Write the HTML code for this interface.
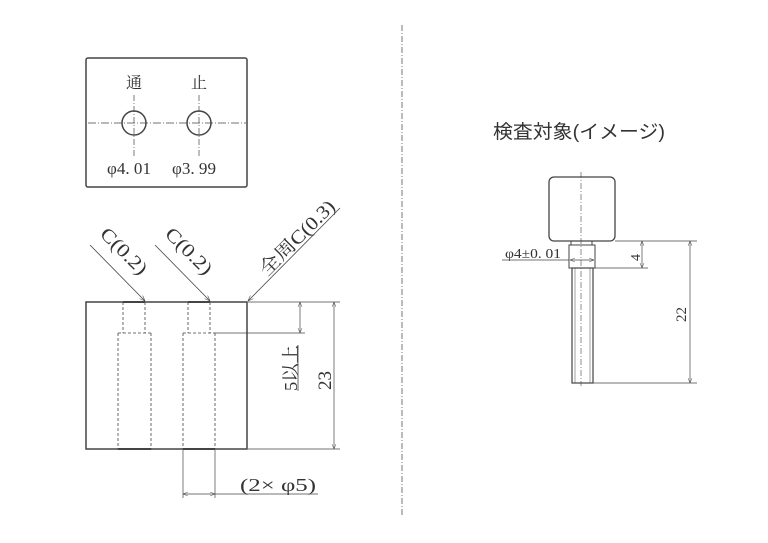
<!DOCTYPE html>
<html><head><meta charset="utf-8"><style>
html,body{margin:0;padding:0;background:#fff;width:768px;height:543px;overflow:hidden}
svg{display:block}
text{font-family:"Liberation Serif","Noto Serif CJK SC",serif;fill:#333}
</style></head><body>
<svg width="768" height="543" viewBox="0 0 768 543" xmlns="http://www.w3.org/2000/svg">
<defs>
<marker id="a" viewBox="0 0 10 10" refX="10" refY="5" markerWidth="7" markerHeight="7" orient="auto-start-reverse"><path d="M0,1 L10,5 L0,9" fill="none" stroke="#444" stroke-width="1"/></marker>
</defs>
<g stroke="#444" fill="none" stroke-width="1">
<line x1="402" y1="25" x2="402" y2="515" stroke-dasharray="6,2,1,2" stroke="#777"/>
<rect x="86" y="58" width="161" height="129" rx="2" stroke-width="1.5"/>
<line x1="88" y1="123" x2="246" y2="123" stroke-dasharray="8,2,1,2" stroke-width="0.7"/>
<line x1="134" y1="95" x2="134" y2="158" stroke-dasharray="6,2,1,2" stroke-width="0.7"/>
<line x1="199" y1="95" x2="199" y2="158" stroke-dasharray="6,2,1,2" stroke-width="0.7"/>
<circle cx="134" cy="123" r="12" stroke-width="1.5"/>
<circle cx="199" cy="123" r="12" stroke-width="1.5"/>
<rect x="86" y="302" width="161" height="147" stroke-width="1.5"/>
<g stroke-dasharray="3,2" stroke-width="0.8">
<path d="M123,302 V333 M145,302 V333 M118,333 H151 M118,333 V449 M151,333 V449"/>
<path d="M188,302 V333 M210,302 V333 M183,333 H215 M183,333 V449 M215,333 V449"/>
</g>
<path d="M123,302 H145 M188,302 H210 M118,449 H151 M183,449 H215" stroke-width="2"/>
<line x1="90" y1="245" x2="145" y2="301" marker-end="url(#a)" stroke-width="0.8"/>
<line x1="155" y1="245" x2="210" y2="301" marker-end="url(#a)" stroke-width="0.8"/>
<line x1="340" y1="208" x2="248" y2="301" marker-end="url(#a)" stroke-width="0.8"/>
<g stroke-width="0.7">
<line x1="248" y1="302" x2="340" y2="302"/>
<line x1="215" y1="333" x2="305" y2="333"/>
<line x1="248" y1="449" x2="340" y2="449"/>
<line x1="300" y1="302" x2="300" y2="333" marker-start="url(#a)" marker-end="url(#a)"/>
<line x1="334" y1="302" x2="334" y2="449" marker-start="url(#a)" marker-end="url(#a)"/>
<line x1="183" y1="450" x2="183" y2="498"/>
<line x1="215" y1="450" x2="215" y2="498"/>
<line x1="183" y1="494" x2="215" y2="494" marker-start="url(#a)" marker-end="url(#a)"/>
<line x1="215" y1="494" x2="318" y2="494"/>
</g>
<rect x="549" y="177" width="66" height="64" rx="5" stroke-width="1.3"/>
<rect x="571" y="241" width="21" height="4"/>
<rect x="569" y="245" width="26" height="23"/>
<rect x="572" y="268" width="21" height="115" stroke-width="1.2"/>
<line x1="575" y1="268" x2="575" y2="383" stroke-width="0.5"/>
<line x1="590" y1="268" x2="590" y2="383" stroke-width="0.5"/>
<line x1="581" y1="172" x2="581" y2="386" stroke-dasharray="6,2,1,2" stroke-width="0.6"/>
<g stroke-width="0.7">
<line x1="615" y1="241" x2="697" y2="241"/>
<line x1="595" y1="268" x2="648" y2="268"/>
<line x1="593" y1="383" x2="697" y2="383"/>
<line x1="642" y1="241" x2="642" y2="268" marker-start="url(#a)" marker-end="url(#a)"/>
<line x1="690" y1="241" x2="690" y2="383" marker-start="url(#a)" marker-end="url(#a)"/>
<line x1="502" y1="260" x2="569" y2="260"/>
<line x1="570" y1="260" x2="594" y2="260" marker-start="url(#a)" marker-end="url(#a)"/>
</g>
</g>
<text x="134" y="88" font-size="16" text-anchor="middle">通</text>
<text x="199" y="88" font-size="16" text-anchor="middle">止</text>
<text x="107" y="174" font-size="17" textLength="44" lengthAdjust="spacingAndGlyphs">φ4. 01</text>
<text x="172" y="174" font-size="17" textLength="44" lengthAdjust="spacingAndGlyphs">φ3. 99</text>
<text transform="translate(99,235) rotate(45)" font-size="19" textLength="58" lengthAdjust="spacingAndGlyphs">C(0.2)</text>
<text transform="translate(164,235) rotate(45)" font-size="19" textLength="58" lengthAdjust="spacingAndGlyphs">C(0.2)</text>
<text transform="translate(267,277) rotate(-45)" font-size="19" textLength="98" lengthAdjust="spacingAndGlyphs">全周C(0.3)</text>
<text transform="translate(297,391) rotate(-90)" font-size="18" textLength="46" lengthAdjust="spacingAndGlyphs">5以上</text>
<line x1="298" y1="345" x2="298" y2="391" stroke="#444" stroke-width="0.8"/>
<text transform="translate(331,390) rotate(-90)" font-size="19">23</text>
<text x="240" y="491" font-size="18" textLength="76" lengthAdjust="spacingAndGlyphs">(2× φ5)</text>
<text x="493" y="138" font-size="19" textLength="172" lengthAdjust="spacingAndGlyphs" style="font-family:'Liberation Sans','Noto Sans CJK JP',sans-serif">検査対象(イメージ)</text>
<text x="505" y="258" font-size="14" textLength="56" lengthAdjust="spacingAndGlyphs">φ4±0. 01</text>
<text transform="translate(640,261) rotate(-90)" font-size="14">4</text>
<text transform="translate(686,322) rotate(-90)" font-size="15">22</text>
</svg>
</body></html>
